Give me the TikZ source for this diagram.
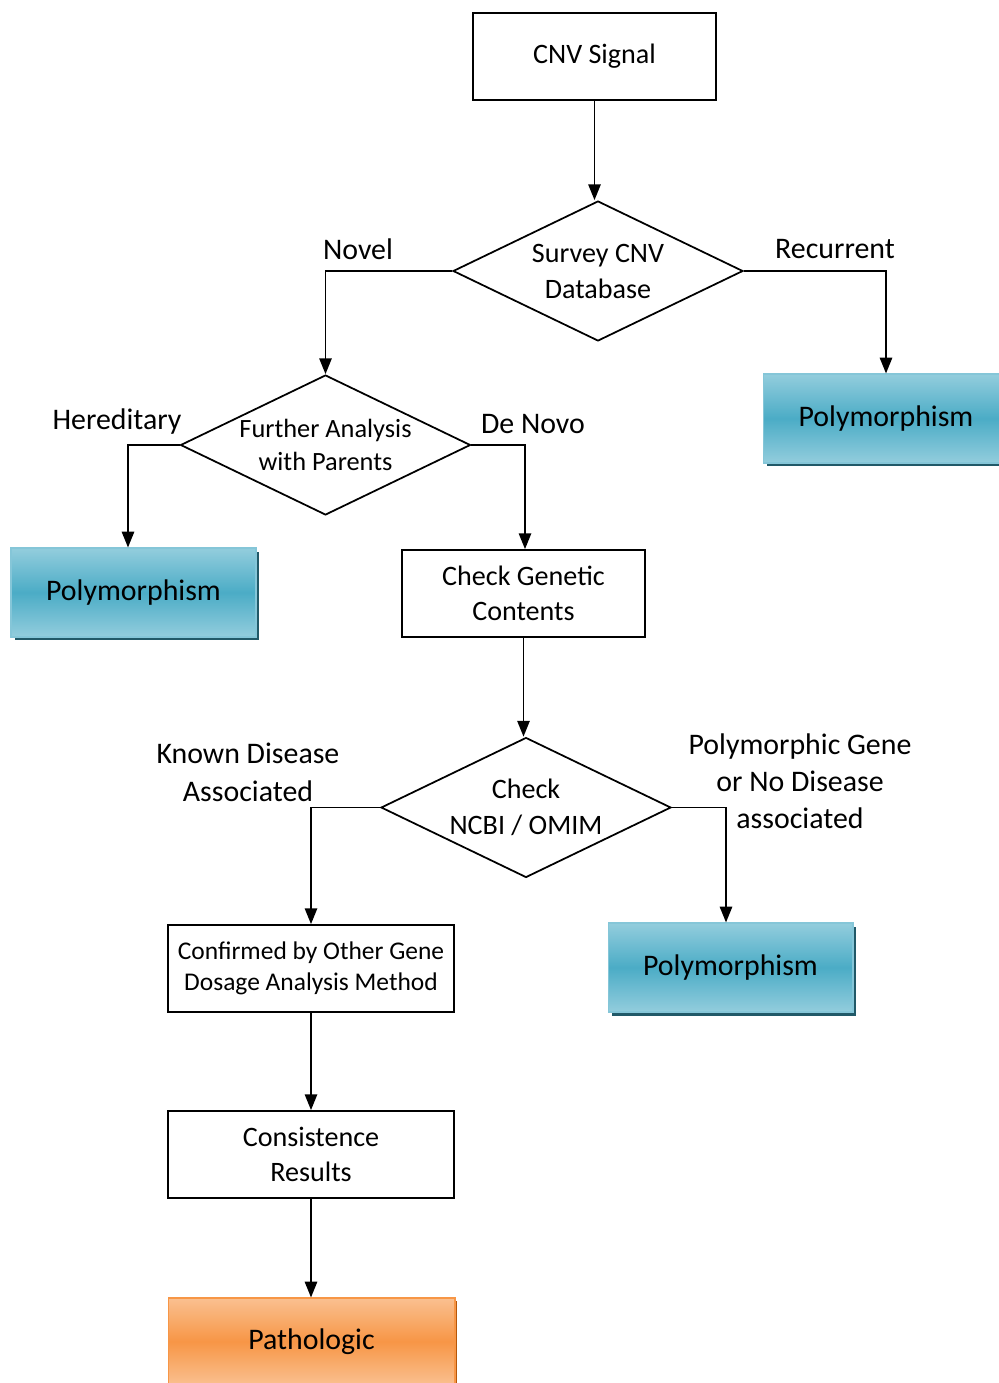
\documentclass[tikz,border=0pt]{standalone}
\usepackage{fontspec}
\setmainfont{Carlito}
\usetikzlibrary{positioning}
\usetikzlibrary{shapes.geometric,arrows.meta,shadows}
\definecolor{blueedge}{HTML}{93CDDD}
\definecolor{bluemid}{HTML}{4BACC6}
\definecolor{blueshadow}{HTML}{215968}
\definecolor{orangeedge}{HTML}{FAC090}
\definecolor{orangemid}{HTML}{F79646}
\definecolor{orangeshadow}{HTML}{B65708}

\begin{document}
\begin{tikzpicture}[x=0.02cm, y=-0.02cm,
    box node/.style={shape=rectangle, draw=black, line width=1pt, minimum width=4.86cm, minimum height=1.74cm, inner sep=0, align=center, font=\fontsize{16}{20}\selectfont},
    dec node/.style={shape=diamond, draw=black, line width=1pt, minimum width=5.8cm, minimum height=2.8cm, aspect=2.07, inner sep=0, align=center, font=\fontsize{16}{20.5}\selectfont},
    poly node/.style={shape=rectangle, draw=blueedge!80!bluemid, line width=0.6pt, minimum width=4.9cm, minimum height=1.78cm, top color=blueedge, bottom color=blueedge, middle color=bluemid, drop shadow={shadow xshift=0.07cm, shadow yshift=-0.07cm, fill=blueshadow, opacity=1}, font=\fontsize{17}{21}\selectfont},
    patho node/.style={shape=rectangle, draw=orangemid, line width=0.6pt, minimum width=5.74cm, minimum height=1.74cm, top color=orangeedge, bottom color=orangeedge, middle color=orangemid, drop shadow={shadow xshift=0.05cm, shadow yshift=-0.05cm, fill=orangeshadow, opacity=1}, font=\fontsize{17}{21}\selectfont},
    lab node/.style={align=center, inner sep=0, font=\fontsize{17}{21.5}\selectfont},
    arr/.style={draw=black, line width=1.1pt, -{Triangle[width=7pt,length=9pt]}},
  ]
		\useasboundingbox (0,0) rectangle (998,1383);
		% boxes and decisions
		\node[box node] (sig) at (594.5,56.5){CNV Signal};
		\node[dec node] (survey) at (598,271){Survey CNV\\Database};
		\node[poly node] (polyR) at (886,418.5){Polymorphism};
		\node[dec node, font=\fontsize{15}{18.5}\selectfont] (parents) at (325.5,445){Further Analysis\\with Parents};
		\node[poly node] (polyL) at (133.5,592.5){Polymorphism};
		\node[box node] (genetic) at (523.5,593.5){Check Genetic\\Contents};
		\node[dec node] (ncbi) at (526,807.5){Check\\NCBI / OMIM};
		\node[box node, minimum width=5.72cm, font=\fontsize{14.5}{17.5}\selectfont] (confirm) at (311,968.5){Confirmed by Other Gene\\Dosage Analysis Method};
		\node[poly node] (polyM) at (730.5,967.5){Polymorphism};
		\node[box node, minimum width=5.72cm] (consist) at (311,1154.5){Consistence\\Results};
		\node[patho node] (patho) at (311.5,1341.5){Pathologic};
		%branch labels
		\node[lab node] (novel) at (358,249){Novel};
		\node[lab node] (recur) at (835,249){Recurrent};
		\node[lab node] (hered) at (117,422){Hereditary};
		\node[lab node] (denovo) at (533,424){De Novo};
		\node[lab node] (known) at (248,772){Known Disease\\Associated};
		\node[lab node, font=\fontsize{17}{21}\selectfont] (nodis) at (800,781){Polymorphic Gene\\or No Disease\\associated};
		%connectors
		\draw[arr] (sig.south) -- (sig.south |- survey.north);
		\draw[arr] (survey.west) -| (parents.north);
		\draw[arr] (survey.east) -| (polyR.north);
		\draw[arr] (parents.west) -| ([xshift=-0.11cm]polyL.north);
		\draw[arr] (parents.east) -| ([xshift=0.03cm]genetic.north);
		\draw[arr] (genetic.south) -- (genetic.south |- ncbi.north);
		\draw[arr] (ncbi.west) -| (confirm.north);
		\draw[arr] (ncbi.east) -| ([xshift=-0.09cm]polyM.north);
		\draw[arr] (confirm) -- (consist);
		\draw[arr] (consist) -- (consist |- patho.north);
		\end{tikzpicture}
\end{document}
